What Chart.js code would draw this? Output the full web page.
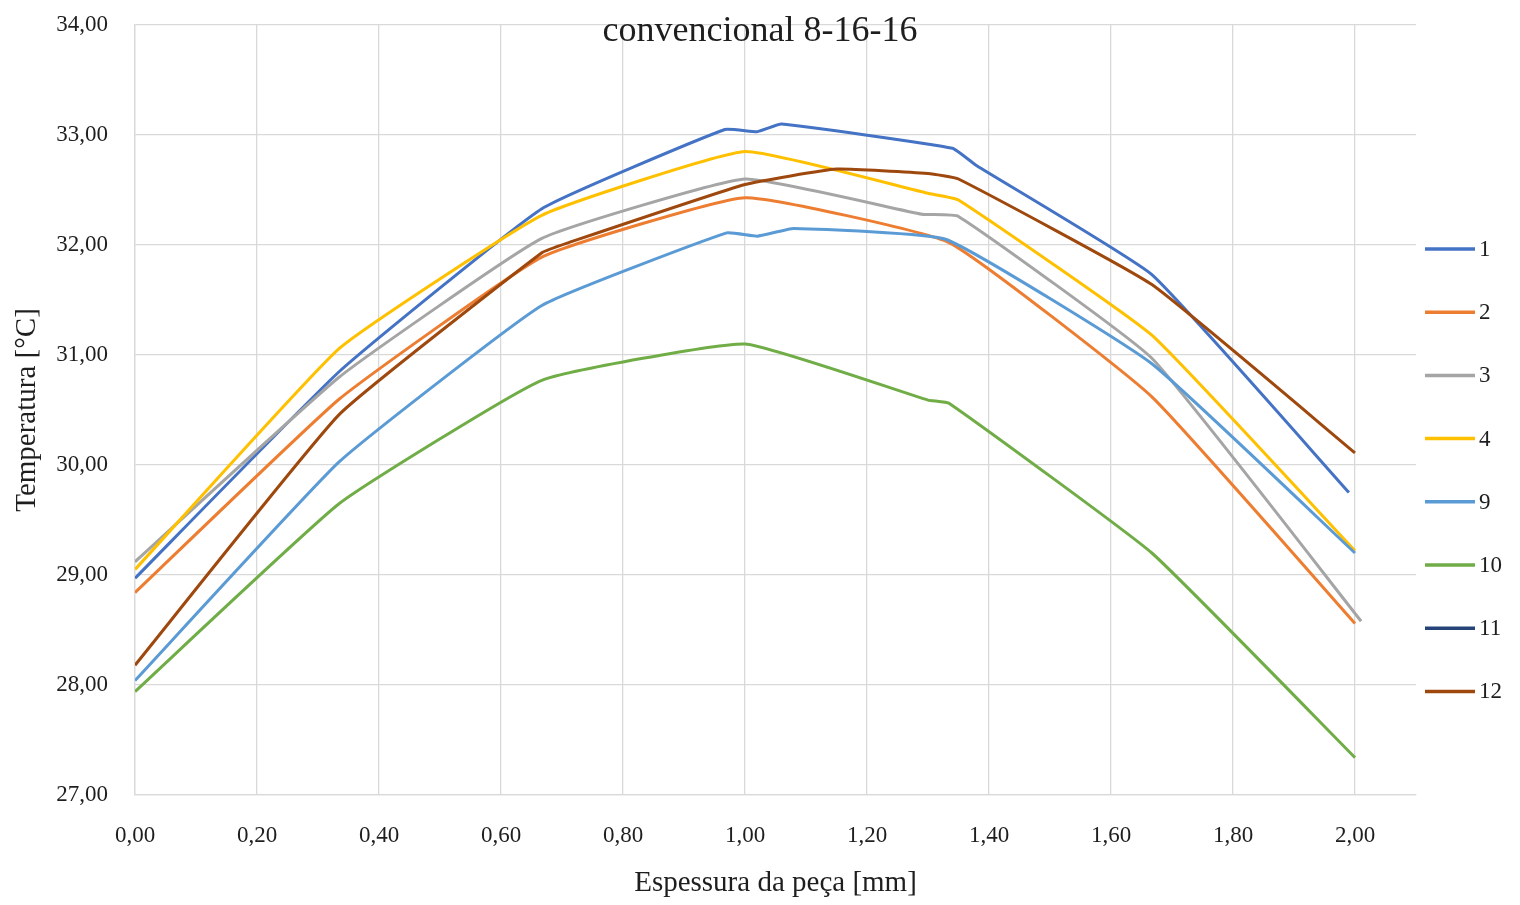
<!DOCTYPE html>
<html>
<head>
<meta charset="utf-8">
<title>convencional 8-16-16</title>
<script src="https://cdn.jsdelivr.net/npm/chart.js@4.4.1/dist/chart.umd.min.js"></script>
<style>
  html, body { margin: 0; padding: 0; background: #ffffff; }
  #wrap { width: 1520px; height: 905px; }
</style>
</head>
<body>
<div id="wrap"><canvas id="chart" width="1520" height="905"></canvas></div>
<script>
// Temperature profiles across the part thickness (mm -> °C)
const seriesNames  = ['1', '2', '3', '4', '9', '10', '11', '12'];
const seriesColors = ['#4472C4', '#ED7D31', '#A5A5A5', '#FFC000', '#5B9BD5', '#70AD47', '#264478', '#9E480E'];

const x1  = [0, 0.335, 0.667, 0.967, 1.02, 1.06, 1.34, 1.38, 1.667, 1.99];
const t1  = [28.97, 30.85, 32.33, 33.05, 33.03, 33.10, 32.88, 32.72, 31.73, 29.75];

const x2  = [0, 0.335, 0.667, 1.0, 1.335, 1.667, 2.0];
const t2  = [28.84, 30.60, 31.89, 32.43, 32.02, 30.62, 28.56];

const x3  = [0, 0.335, 0.667, 1.0, 1.29, 1.35, 1.667, 2.01];
const t3  = [29.12, 30.80, 32.06, 32.60, 32.28, 32.26, 30.97, 28.58];

const x4  = [0, 0.335, 0.667, 1.0, 1.30, 1.35, 1.667, 2.0];
const t4  = [29.05, 31.06, 32.27, 32.85, 32.47, 32.41, 31.18, 29.22];

const x9  = [0, 0.335, 0.667, 0.97, 1.02, 1.08, 1.33, 1.667, 2.0];
const t9  = [28.04, 30.03, 31.45, 32.11, 32.08, 32.15, 32.05, 30.92, 29.20];

const x10 = [0, 0.335, 0.667, 1.0, 1.30, 1.335, 1.667, 2.0];
const t10 = [27.94, 29.65, 30.77, 31.10, 30.59, 30.56, 29.20, 27.34];

const x11 = [];
const t11 = [];

const x12 = [0, 0.335, 0.667, 0.71, 1.0, 1.15, 1.30, 1.35, 1.667, 2.0];
const t12 = [28.18, 30.46, 31.93, 32.02, 32.55, 32.69, 32.65, 32.60, 31.64, 30.11];

const xTickStep = 0.2;
const yTickStep = 1;

const seriesX = [x1, x2, x3, x4, x9, x10, x11, x12];
const seriesT = [t1, t2, t3, t4, t9, t10, t11, t12];

const FONT = '"Liberation Serif", "Times New Roman", serif';
const TEXT = '#1e1e1e';
const GRID = '#d9d9d9';

const commaFmt = v => Number(v).toFixed(2).replace('.', ',');

const datasets = seriesNames.map((name, i) => ({
  label: name,
  data: seriesX[i].map((x, k) => ({ x: x, y: seriesT[i][k] })),
  borderColor: seriesColors[i],
  backgroundColor: seriesColors[i],
  borderWidth: 3,
  pointRadius: 0,
  tension: 0.12,
  fill: false,
  // later series are painted over earlier ones
  order: seriesNames.length - i
}));

// Chart heading, painted over the top gridline
const headingPlugin = {
  id: 'heading',
  afterDraw(chart) {
    const ctx = chart.ctx;
    ctx.save();
    ctx.font = '36px ' + FONT;
    ctx.fillStyle = TEXT;
    ctx.textAlign = 'center';
    ctx.textBaseline = 'alphabetic';
    ctx.fillText('convencional 8-16-16', chart.width / 2, 41);
    ctx.restore();
  }
};

// Series key on the right-hand side
const keyPlugin = {
  id: 'seriesKey',
  afterDraw(chart) {
    const ctx = chart.ctx;
    const x0 = chart.chartArea.right + 9;
    const top = 249;
    const gap = 63.2;
    ctx.save();
    ctx.font = '23px ' + FONT;
    ctx.textAlign = 'left';
    ctx.textBaseline = 'middle';
    chart.data.datasets.forEach((ds, i) => {
      const y = top + i * gap;
      ctx.strokeStyle = ds.borderColor;
      ctx.lineWidth = 3.5;
      ctx.beginPath();
      ctx.moveTo(x0, y);
      ctx.lineTo(x0 + 50, y);
      ctx.stroke();
      ctx.fillStyle = TEXT;
      ctx.fillText(ds.label, x0 + 54, y + 1);
    });
    ctx.restore();
  }
};

new Chart(document.getElementById('chart'), {
  type: 'line',
  data: { datasets: datasets },
  plugins: [headingPlugin, keyPlugin],
  options: {
    responsive: false,
    animation: false,
    devicePixelRatio: 1,
    layout: { padding: { top: 25, right: 104, bottom: 0, left: 0 } },
    plugins: {
      legend: { display: false },
      title: { display: false },
      tooltip: { enabled: false }
    },
    scales: {
      x: {
        type: 'linear',
        min: 0,
        max: 2.1,
        afterFit(scale) {
          scale.height = 110;
          scale.paddingLeft = 0;
          scale.paddingRight = 0;
        },
        grid: { color: GRID, lineWidth: 1.3, drawTicks: false },
        border: { color: GRID, width: 1.3 },
        ticks: {
          stepSize: xTickStep,
          includeBounds: false,
          padding: 27,
          maxRotation: 0,
          autoSkip: false,
          color: TEXT,
          font: { family: FONT, size: 23 },
          callback: v => commaFmt(v)
        },
        title: {
          display: true,
          text: 'Espessura da peça [mm]',
          color: TEXT,
          font: { family: FONT, size: 29 },
          padding: { top: 0, bottom: 4 }
        }
      },
      y: {
        type: 'linear',
        min: 27,
        max: 34,
        afterFit(scale) {
          scale.width = 135;
          scale.paddingTop = 0;
          scale.paddingBottom = 0;
        },
        grid: { color: GRID, lineWidth: 1.3, drawTicks: false },
        border: { color: GRID, width: 1.3 },
        ticks: {
          stepSize: yTickStep,
          padding: 27,
          color: TEXT,
          font: { family: FONT, size: 23 },
          callback: v => commaFmt(v)
        },
        title: {
          display: true,
          text: 'Temperatura [°C]',
          color: TEXT,
          font: { family: FONT, size: 29 },
          padding: { top: 10, bottom: 0 }
        }
      }
    }
  }
});
</script>
</body>
</html>
